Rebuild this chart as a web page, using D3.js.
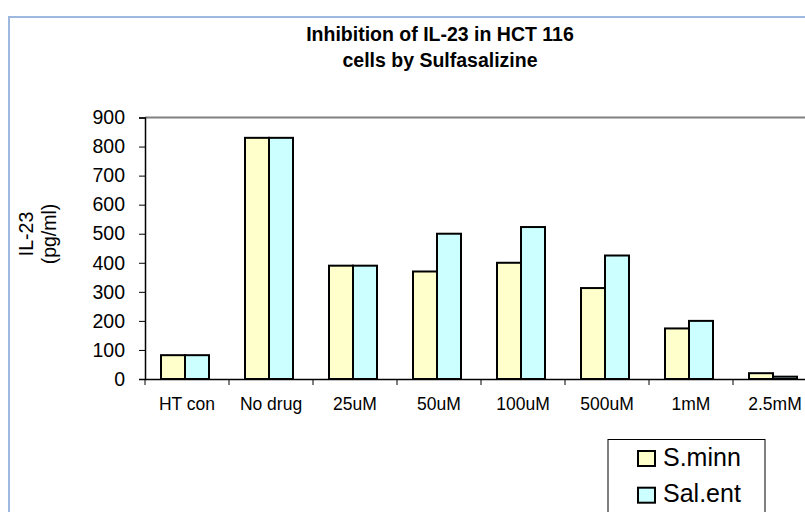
<!DOCTYPE html>
<html>
<head>
<meta charset="utf-8">
<script src="https://cdn.jsdelivr.net/npm/d3@7"></script>
<style>
  body { margin: 0; background: #fff; }
  text { font-family: "Liberation Sans", Arial, sans-serif; }
</style>
</head>
<body>
<script>
// data
var categories = ["HT con", "No drug", "25uM", "50uM", "100uM", "500uM", "1mM", "2.5mM"];
var seriesNames = ["S.minn", "Sal.ent"];
var sMinn = [82, 830, 390, 370, 400, 313, 174, 20];
var salEnt = [82, 830, 390, 500, 523, 425, 200, 8];
var yTicks = [0, 100, 200, 300, 400, 500, 600, 700, 800, 900];
var colors = ["#ffffcc", "#ccffff"];

var width = 805, height = 512;
var svg = d3.select("body").append("svg")
    .attr("width", width)
    .attr("height", height);

// chart border (light blue)
svg.append("path")
    .attr("d", "M9,512 V17 H805")
    .attr("fill", "none")
    .attr("stroke", "#9db9e0")
    .attr("stroke-width", 2);

// title
svg.append("text")
    .attr("x", 440).attr("y", 41)
    .attr("text-anchor", "middle")
    .attr("font-size", 19.5).attr("font-weight", "bold")
    .text("Inhibition of IL-23 in HCT 116");
svg.append("text")
    .attr("x", 440).attr("y", 67)
    .attr("text-anchor", "middle")
    .attr("font-size", 19.5).attr("font-weight", "bold")
    .text("cells by Sulfasalizine");

// scales
var x0 = d3.scaleBand().domain(categories).range([145, 145 + 84 * categories.length]).paddingInner(0).paddingOuter(0);
var x1 = d3.scaleBand().domain(seriesNames).range([16, 64]);
var y = d3.scaleLinear().domain([0, 900]).range([379, 117.5]);

// plot area top border
svg.append("line")
    .attr("x1", 145).attr("x2", width)
    .attr("y1", y(900)).attr("y2", y(900))
    .attr("stroke", "#808080").attr("stroke-width", 2);

// bars
var rows = categories.map(function(c, i) { return {cat: c, vals: [sMinn[i], salEnt[i]]}; });
var groups = svg.selectAll("g.grp")
    .data(rows)
    .enter().append("g")
    .attr("class", "grp")
    .attr("transform", function(d) { return "translate(" + x0(d.cat) + ",0)"; });

groups.selectAll("rect")
    .data(function(d) { return d.vals.map(function(v, j) { return {name: seriesNames[j], v: v, j: j}; }); })
    .enter().append("rect")
    .attr("x", function(d) { return x1(d.name); })
    .attr("width", x1.bandwidth())
    .attr("y", function(d) { return y(d.v); })
    .attr("height", function(d) { return y(0) - y(d.v); })
    .attr("fill", function(d) { return colors[d.j]; })
    .attr("stroke", "#000")
    .attr("stroke-width", 2);

// y axis
var yAxis = svg.append("g")
    .attr("transform", "translate(145,0)")
    .call(d3.axisLeft(y).tickValues(yTicks).tickSize(6).tickPadding(14));
yAxis.select(".domain").attr("stroke", "#000").attr("stroke-width", 1.5);
yAxis.selectAll(".tick line").attr("stroke", "#000");
yAxis.selectAll("text").attr("font-size", 19.5).attr("fill", "#000")
    .style("font-family", "Liberation Sans, Arial, sans-serif");

// x axis
var xAxis = svg.append("g")
    .attr("transform", "translate(0," + y(0) + ")")
    .call(d3.axisBottom(x0).tickSize(0).tickPadding(18.5));
xAxis.select(".domain").attr("stroke", "#000").attr("stroke-width", 1.5);
xAxis.selectAll("text").attr("font-size", 17.5).attr("fill", "#000")
    .style("font-family", "Liberation Sans, Arial, sans-serif");
// category divider ticks
svg.selectAll("line.xtick")
    .data(categories)
    .enter().append("line")
    .attr("class", "xtick")
    .attr("x1", function(d) { return x0(d); })
    .attr("x2", function(d) { return x0(d); })
    .attr("y1", y(0)).attr("y2", y(0) + 6)
    .attr("stroke", "#000");

// y axis title
var yt = svg.append("text")
    .attr("transform", "translate(33,234) rotate(-90)")
    .attr("text-anchor", "middle")
    .attr("font-size", 19.5);
yt.append("tspan").attr("x", 0).attr("dy", 0).text("IL-23");
yt.append("tspan").attr("x", 0).attr("dy", 23).text("(pg/ml)");

// legend
var legend = svg.append("g");
legend.append("rect")
    .attr("x", 608).attr("y", 439.5)
    .attr("width", 157).attr("height", 80)
    .attr("fill", "#fff").attr("stroke", "#000").attr("stroke-width", 1);
var items = legend.selectAll("g.item")
    .data(seriesNames)
    .enter().append("g")
    .attr("class", "item")
    .attr("transform", function(d, i) { return "translate(638," + (451 + i * 36.7) + ")"; });
items.append("rect")
    .attr("width", 17).attr("height", 15)
    .attr("fill", function(d, i) { return colors[i]; })
    .attr("stroke", "#000").attr("stroke-width", 2);
items.append("text")
    .attr("x", 25).attr("y", 14.5)
    .attr("font-size", 25)
    .text(function(d) { return d; });
</script>
</body>
</html>
